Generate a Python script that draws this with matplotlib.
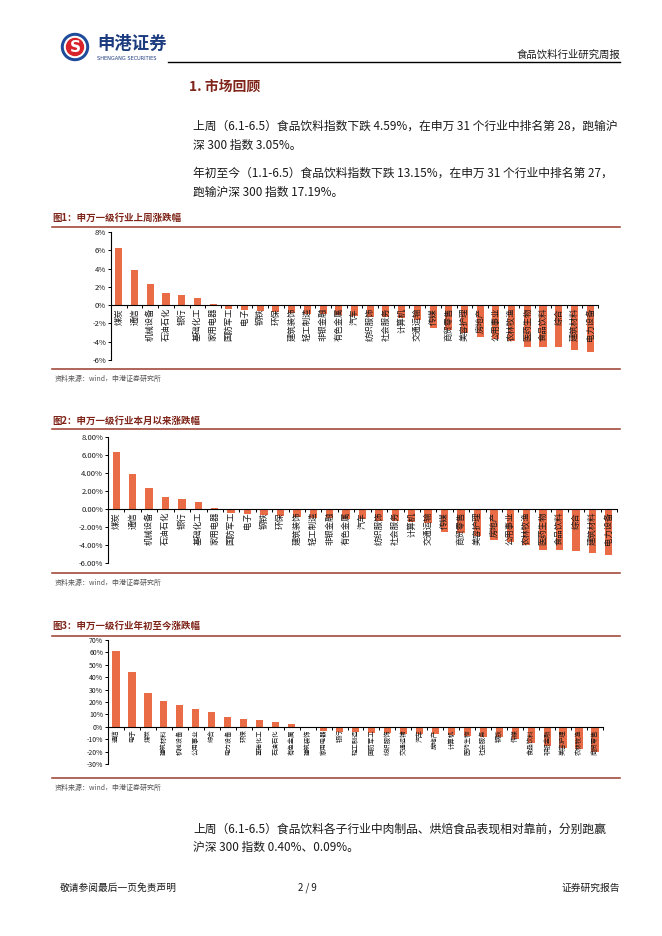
import numpy as np
import matplotlib
matplotlib.use("Agg")
import matplotlib.pyplot as plt
from matplotlib.patches import Circle

plt.rcParams['font.family'] = ['Noto Sans CJK SC', 'DejaVu Sans']

# ---------------- data ----------------
week_cats = ['煤炭', '通信', '机械设备', '石油石化', '银行', '基础化工', '家用电器', '国防军工',
             '电子', '钢铁', '环保', '建筑装饰', '轻工制造', '非银金融', '有色金属', '汽车',
             '纺织服饰', '社会服务', '计算机', '交通运输', '传媒', '商贸零售', '美容护理', '房地产',
             '公用事业', '农林牧渔', '医药生物', '食品饮料', '综合', '建筑材料', '电力设备']
week_vals = [6.30, 3.85, 2.35, 1.35, 1.15, 0.80, 0.15, -0.45,
             -0.55, -0.65, -0.75, -0.85, -0.95, -1.00, -1.10, -1.15,
             -1.30, -1.35, -1.45, -1.60, -2.55, -2.70, -3.00, -3.45,
             -3.65, -3.95, -4.55, -4.59, -4.62, -4.90, -5.10]

month_cats = list(week_cats)
month_vals = list(week_vals)

ytd_cats = ['通信', '电子', '煤炭', '建筑材料', '机械设备', '公用事业', '综合', '电力设备',
            '环保', '基础化工', '石油石化', '有色金属', '建筑装饰', '家用电器', '银行', '轻工制造',
            '国防军工', '纺织服饰', '交通运输', '汽车', '房地产', '计算机', '医药生物', '社会服务',
            '钢铁', '传媒', '食品饮料', '非银金融', '美容护理', '农林牧渔', '商贸零售']
ytd_vals = [61.5, 44.2, 27.3, 20.6, 17.9, 14.2, 11.8, 8.3,
            5.9, 5.1, 4.0, 2.4, -1.3, -3.5, -4.0, -4.5,
            -5.0, -5.2, -5.5, -5.8, -6.2, -6.8, -7.5, -8.0,
            -8.5, -9.5, -13.15, -15.5, -17.0, -18.0, -20.5]

yt1 = [-6, -4, -2, 0, 2, 4, 6, 8]
yt3 = [-30, -20, -10, 0, 10, 20, 30, 40, 50, 60, 70]

# ---------------- layout ----------------
W, H = 662, 936
fig = plt.figure(figsize=(W / 100, H / 100), dpi=100)
fig.patch.set_facecolor('white')

ov = fig.add_axes([0, 0, 1, 1])
ov.set_xlim(0, W)
ov.set_ylim(H, 0)
ov.axis('off')
ov.patch.set_alpha(0)

BAR = '#EA6C47'
DARKRED = '#7E2418'
LINERED = '#9A3A2C'
TXT = '#1A1A1A'

# header / logo
ov.add_patch(Circle((75, 47), 13.5, color='#1F4B9B'))
ov.add_patch(Circle((75, 47), 10.5, color='white'))
ov.add_patch(Circle((75, 47), 8.5, color='#D9232B'))
ov.text(75, 47.5, 'S', color='white', fontsize=11, fontweight='bold', ha='center', va='center',
        family='DejaVu Sans')
ov.text(97, 44, '申港证券', fontsize=12.5, fontweight='bold', color='#1C3B7E', ha='left', va='center')
ov.text(97, 58, 'SHENGANG SECURITIES', fontsize=3.6, color='#1C3B7E', ha='left', va='center',
        family='DejaVu Sans')
ov.plot([168, 620], [62, 62], color='black', lw=1.0)
ov.text(620, 55, '食品饮料行业研究周报', fontsize=7.5, color=TXT, ha='right', va='center')

ov.text(189, 87, '1. 市场回顾', fontsize=10, fontweight='bold', color=DARKRED, ha='left', va='center')

body = 8.5
ov.text(193, 126, '上周（6.1-6.5）食品饮料指数下跌 4.59%，在申万 31 个行业中排名第 28，跑输沪',
        fontsize=body, color=TXT, ha='left', va='center')
ov.text(193, 145, '深 300 指数 3.05%。', fontsize=body, color=TXT, ha='left', va='center')
ov.text(193, 173, '年初至今（1.1-6.5）食品饮料指数下跌 13.15%，在申万 31 个行业中排名第 27，',
        fontsize=body, color=TXT, ha='left', va='center')
ov.text(193, 192, '跑输沪深 300 指数 17.19%。', fontsize=body, color=TXT, ha='left', va='center')

ov.text(193, 829, '上周（6.1-6.5）食品饮料各子行业中肉制品、烘焙食品表现相对靠前，分别跑赢',
        fontsize=body, color=TXT, ha='left', va='center')
ov.text(193, 847, '沪深 300 指数 0.40%、0.09%。', fontsize=body, color=TXT, ha='left', va='center')

# footer
ov.text(60, 888, '敬请参阅最后一页免责声明', fontsize=7, color=TXT, ha='left', va='center')
ov.text(307, 888, '2 / 9', fontsize=7, color=TXT, ha='center', va='center')
ov.text(620, 888, '证券研究报告', fontsize=7, color=TXT, ha='right', va='center')

# chart frames
def frame(title, ytitle, yline_top, yline_bot):
    ov.text(52, ytitle, title, fontsize=6.8, fontweight='bold', color=DARKRED, ha='left', va='center')
    ov.plot([52, 620], [yline_top, yline_top], color=LINERED, lw=1.1)
    ov.plot([52, 620], [yline_bot, yline_bot], color=LINERED, lw=1.1)
    ov.text(55, yline_bot + 10, '资料来源：wind，申港证券研究所', fontsize=5, style='italic',
            color='#555555', ha='left', va='center')

frame('图1：申万一级行业上周涨跌幅', 218, 227, 369)
frame('图2：申万一级行业本月以来涨跌幅', 421, 429, 573)
frame('图3：申万一级行业年初至今涨跌幅', 626, 636, 778)


def add_ax(x0, y0, x1, y1):
    a = fig.add_axes([x0 / W, 1 - y1 / H, (x1 - x0) / W, (y1 - y0) / H])
    a.patch.set_alpha(0)
    return a


def draw(ax, cats, vals, ylim, yticks, fmt, xfs, yfs):
    x = np.arange(len(cats))
    ax.set_axisbelow(False)
    ax.bar(x, vals, width=0.45, color=BAR, zorder=1)
    ax.set_xlim(-0.5, len(cats) - 0.5)
    ax.set_ylim(*ylim)
    ax.set_yticks(yticks)
    ax.set_yticklabels([fmt(v) for v in yticks])
    for s in ('top', 'right'):
        ax.spines[s].set_visible(False)
    ax.spines['bottom'].set_position(('data', 0))
    for s in ('left', 'bottom'):
        ax.spines[s].set_linewidth(0.8)
        ax.spines[s].set_zorder(3)
    ax.set_xticks(x)
    ax.set_xticklabels(cats, rotation=90, fontsize=xfs, color=TXT)
    ax.set_xticks(np.arange(-0.5, len(cats)), minor=True)
    ax.tick_params(axis='x', which='major', length=0, pad=2)
    ax.tick_params(axis='x', which='minor', length=2.5, width=0.7, direction='out')
    ax.tick_params(axis='y', length=2, width=0.7, labelsize=yfs, pad=1.5, labelcolor=TXT)


ax1 = add_ax(111, 232, 598, 360)
draw(ax1, week_cats, week_vals, (-6, 8), yt1, lambda v: f'{v:d}%', 6.0, 5.5)

ax2 = add_ax(108, 437, 617, 563)
draw(ax2, month_cats, month_vals, (-6, 8), yt1, lambda v: f'{v:.2f}%', 6.0, 5.5)

ax3 = add_ax(108, 640, 603, 764)
draw(ax3, ytd_cats, ytd_vals, (-30, 70), yt3, lambda v: f'{v:d}%', 4.6, 5.0)

fig.savefig('out.png', dpi=100, facecolor='white')
